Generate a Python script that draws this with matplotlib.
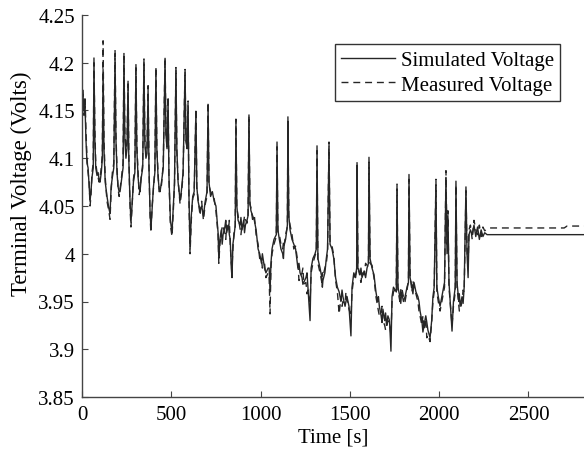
import matplotlib
matplotlib.use("Agg")
import matplotlib.pyplot as plt
from matplotlib.ticker import FuncFormatter

# time samples [s] (12 per row, rows line up with the voltage lists)
time_s = [
    0, 6, 11, 17, 22, 28, 34, 40, 45, 50, 56, 63,
    67, 72, 77, 84, 90, 96, 101, 108, 114, 118, 123, 130,
    140, 150, 157, 163, 170, 178, 185, 190, 196, 202, 208, 213,
    220, 230, 235, 240, 246, 252, 258, 262, 268, 274, 280, 288,
    296, 302, 307, 314, 320, 325, 332, 340, 347, 352, 358, 364,
    370, 375, 381, 386, 392, 400, 408, 414, 419, 426, 432, 437,
    445, 455, 465, 470, 476, 482, 487, 495, 504, 510, 518, 526,
    531, 538, 549, 556, 566, 577, 582, 588, 594, 599, 605, 612,
    620, 628, 638, 643, 650, 661, 670, 680, 690, 700, 706, 711,
    720, 730, 740, 750, 762, 766, 772, 780, 785, 790, 800, 805,
    810, 820, 825, 830, 836, 840, 845, 852, 858, 862, 867, 874,
    885, 890, 896, 905, 910, 915, 924, 930, 935, 940, 946, 955,
    965, 975, 986, 995, 1005, 1010, 1014, 1022, 1030, 1042, 1048, 1053,
    1058, 1064, 1075, 1088, 1092, 1097, 1105, 1114, 1124, 1128, 1132, 1140,
    1150, 1153, 1158, 1165, 1176, 1186, 1196, 1209, 1215, 1221, 1232, 1237,
    1242, 1254, 1260, 1265, 1277, 1283, 1293, 1305, 1312, 1316, 1321, 1333,
    1343, 1346, 1349, 1360, 1368, 1375, 1383, 1389, 1400, 1410, 1420, 1430,
    1440, 1450, 1456, 1461, 1473, 1478, 1484, 1495, 1506, 1512, 1522, 1532,
    1538, 1540, 1545, 1557, 1562, 1568, 1580, 1588, 1596, 1604, 1607, 1613,
    1624, 1635, 1646, 1655, 1660, 1665, 1675, 1680, 1685, 1695, 1700, 1705,
    1713, 1722, 1730, 1736, 1744, 1760, 1764, 1769, 1780, 1785, 1790, 1800,
    1809, 1820, 1828, 1831, 1837, 1848, 1853, 1859, 1870, 1881, 1887, 1893,
    1903, 1909, 1915, 1925, 1931, 1937, 1949, 1958, 1965, 1972, 1982, 1987,
    1995, 2005, 2015, 2030, 2038, 2044, 2049, 2055, 2072, 2080, 2090, 2094,
    2100, 2110, 2113, 2117, 2128, 2134, 2140, 2150, 2156, 2162, 2167, 2175,
    2185, 2195, 2205, 2215, 2225, 2235, 2245, 2255, 2268, 2285, 2700, 2716, 2811,
]

# simulated terminal voltage [V]
v_sim = [
    4.150, 4.165, 4.150, 4.155, 4.120, 4.095, 4.090, 4.070, 4.055, 4.065, 4.080, 4.090,
    4.205, 4.120, 4.090, 4.082, 4.085, 4.078, 4.075, 4.085, 4.100, 4.193, 4.110, 4.075,
    4.060, 4.048, 4.042, 4.070, 4.080, 4.090, 4.205, 4.120, 4.085, 4.070, 4.065, 4.065,
    4.075, 4.090, 4.205, 4.120, 4.100, 4.110, 4.178, 4.100, 4.060, 4.033, 4.050, 4.075,
    4.085, 4.195, 4.110, 4.080, 4.068, 4.065, 4.080, 4.090, 4.200, 4.115, 4.100, 4.105,
    4.172, 4.090, 4.045, 4.026, 4.045, 4.070, 4.085, 4.192, 4.110, 4.080, 4.068, 4.065,
    4.075, 4.090, 4.203, 4.125, 4.110, 4.160, 4.080, 4.035, 4.022, 4.045, 4.075, 4.192,
    4.110, 4.075, 4.056, 4.065, 4.085, 4.190, 4.120, 4.110, 4.155, 4.060, 4.005, 4.040,
    4.060, 4.065, 4.148, 4.070, 4.055, 4.045, 4.050, 4.040, 4.055, 4.065, 4.155, 4.075,
    4.060, 4.065, 4.055, 4.050, 4.022, 3.995, 4.015, 4.025, 4.010, 4.020, 4.028, 4.035,
    4.022, 4.030, 4.020, 4.015, 3.985, 3.975, 4.010, 4.020, 4.030, 4.138, 4.050, 4.035,
    4.030, 4.038, 4.025, 4.035, 4.022, 4.030, 4.035, 4.040, 4.143, 4.055, 4.045, 4.040,
    4.035, 4.025, 4.005, 4.000, 3.990, 4.000, 3.995, 3.985, 3.980, 3.985, 3.985, 3.960,
    3.990, 4.005, 4.015, 4.020, 4.117, 4.025, 4.015, 4.005, 4.000, 3.995, 4.010, 4.015,
    4.030, 4.138, 4.040, 4.025, 4.015, 4.010, 4.005, 3.985, 3.990, 3.980, 3.975, 3.968,
    3.970, 3.975, 3.980, 3.965, 3.930, 3.985, 3.995, 4.000, 4.005, 4.113, 3.995, 3.985,
    3.975, 3.965, 3.972, 3.980, 3.995, 4.005, 4.112, 4.010, 4.005, 3.995, 3.975, 3.965,
    3.960, 3.950, 3.962, 3.955, 3.945, 3.950, 3.955, 3.945, 3.914, 3.965, 3.980, 3.975,
    3.985, 4.092, 3.985, 3.978, 3.985, 3.975, 3.982, 3.975, 3.985, 3.990, 4.101, 3.995,
    3.985, 3.978, 3.960, 3.950, 3.955, 3.945, 3.935, 3.928, 3.942, 3.930, 3.938, 3.925,
    3.935, 3.930, 3.898, 3.955, 3.965, 3.960, 4.068, 3.965, 3.955, 3.948, 3.960, 3.950,
    3.955, 3.965, 3.970, 4.083, 3.975, 3.965, 3.958, 3.970, 3.960, 3.955, 3.950, 3.940,
    3.930, 3.918, 3.925, 3.935, 3.928, 3.920, 3.912, 3.930, 3.955, 3.965, 4.072, 3.965,
    3.955, 3.945, 3.955, 3.970, 4.080, 4.000, 4.040, 3.970, 3.919, 3.950, 3.965, 4.076,
    3.970, 3.950, 3.958, 3.945, 3.955, 3.948, 3.965, 4.070, 4.000, 3.975, 4.020, 4.025,
    4.020, 4.030, 4.018, 4.028, 4.015, 4.025, 4.018, 4.022, 4.020, 4.020, 4.020, 4.020, 4.020,
]

# measured terminal voltage [V]
v_meas = [
    4.160, 4.172, 4.145, 4.165, 4.130, 4.100, 4.085, 4.075, 4.050, 4.060, 4.085, 4.095,
    4.200, 4.130, 4.095, 4.085, 4.080, 4.075, 4.080, 4.090, 4.105, 4.223, 4.120, 4.080,
    4.055, 4.045, 4.036, 4.065, 4.085, 4.095, 4.214, 4.125, 4.090, 4.068, 4.060, 4.068,
    4.078, 4.095, 4.211, 4.125, 4.110, 4.115, 4.182, 4.105, 4.055, 4.028, 4.048, 4.078,
    4.090, 4.199, 4.115, 4.085, 4.062, 4.068, 4.082, 4.094, 4.204, 4.120, 4.105, 4.110,
    4.176, 4.092, 4.040, 4.022, 4.048, 4.068, 4.088, 4.196, 4.112, 4.084, 4.065, 4.066,
    4.072, 4.094, 4.206, 4.128, 4.112, 4.165, 4.078, 4.030, 4.018, 4.040, 4.072, 4.195,
    4.108, 4.078, 4.052, 4.062, 4.082, 4.193, 4.118, 4.112, 4.160, 4.055, 4.000, 4.035,
    4.058, 4.062, 4.152, 4.068, 4.058, 4.040, 4.055, 4.035, 4.052, 4.060, 4.159, 4.072,
    4.065, 4.062, 4.058, 4.045, 4.020, 3.990, 4.010, 4.020, 4.030, 4.028, 4.022, 4.015,
    4.030, 4.025, 4.035, 4.010, 3.990, 3.985, 4.005, 4.025, 4.028, 4.141, 4.048, 4.040,
    4.026, 4.020, 4.030, 4.032, 4.040, 4.036, 4.032, 4.042, 4.146, 4.052, 4.048, 4.036,
    4.040, 4.020, 4.010, 3.995, 3.995, 3.985, 3.988, 3.990, 3.975, 3.980, 3.975, 3.937,
    3.985, 4.000, 4.010, 4.018, 4.112, 4.022, 4.020, 4.010, 4.005, 4.012, 4.008, 4.020,
    4.028, 4.144, 4.038, 4.030, 4.020, 4.005, 4.008, 3.990, 3.972, 3.975, 3.980, 3.985,
    3.968, 3.970, 3.958, 3.962, 3.950, 3.980, 3.990, 3.998, 4.002, 4.108, 3.990, 3.980,
    3.970, 3.980, 3.976, 3.985, 3.990, 4.002, 4.117, 4.012, 4.008, 3.998, 3.972, 3.960,
    3.937, 3.955, 3.945, 3.950, 3.948, 3.960, 3.952, 3.942, 3.935, 3.960, 3.975, 3.978,
    3.982, 4.097, 3.988, 3.975, 3.970, 3.980, 3.978, 3.990, 3.988, 3.986, 4.096, 3.990,
    3.988, 3.975, 3.955, 3.945, 3.940, 3.935, 3.938, 3.945, 3.930, 3.925, 3.920, 3.922,
    3.930, 3.928, 3.915, 3.950, 3.960, 3.965, 4.073, 3.962, 3.950, 3.962, 3.965, 3.955,
    3.950, 3.962, 3.972, 4.078, 3.978, 3.960, 3.972, 3.965, 3.958, 3.950, 3.940, 3.935,
    3.925, 3.935, 3.920, 3.932, 3.912, 3.915, 3.908, 3.928, 3.950, 3.960, 4.078, 3.960,
    3.950, 3.940, 3.950, 3.965, 4.087, 4.010, 4.045, 3.965, 3.925, 3.945, 3.960, 4.072,
    3.965, 3.945, 3.940, 3.940, 3.950, 3.962, 3.960, 4.066, 4.005, 3.985, 4.025, 4.030,
    4.015, 4.035, 4.025, 4.020, 4.030, 4.018, 4.028, 4.024, 4.026, 4.027, 4.027, 4.029, 4.029,
]

y_ticks = [3.85, 3.9, 3.95, 4.0, 4.05, 4.1, 4.15, 4.2, 4.25]
x_ticks = [0, 500, 1000, 1500, 2000, 2500]

plt.rcParams["font.family"] = ["Liberation Serif", "DejaVu Serif"]
plt.rcParams["font.size"] = 15

fig = plt.figure(figsize=(5.84, 4.52), dpi=100)
ax = fig.add_axes([82 / 584, 54 / 452, 502 / 584, 382 / 452])

ax.plot(time_s, v_sim, color="#262626", lw=1.0, label="Simulated Voltage")
ax.plot(time_s, v_meas, color="#262626", lw=1.0, linestyle=(0, (5, 3.5)),
        label="Measured Voltage")

ax.set_xlim(0, 2811)
ax.set_ylim(3.85, 4.25)
ax.set_xticks(x_ticks)
ax.set_yticks(y_ticks)
ax.yaxis.set_major_formatter(FuncFormatter(lambda v, p: f"{v:g}"))

ax.spines["top"].set_visible(False)
ax.spines["right"].set_visible(False)
for s in ("left", "bottom"):
    ax.spines[s].set_color("#444444")
    ax.spines[s].set_linewidth(1.0)
ax.tick_params(direction="in", length=4, width=0.8, color="#444444", labelsize=15)
ax.tick_params(axis="y", pad=5)
ax.tick_params(axis="x", pad=6)

ax.set_xlabel("Time [s]", labelpad=2)
ax.set_ylabel("Terminal Voltage (Volts)", fontsize=16.5)
ax.yaxis.set_label_coords(-0.100, 0.562)

leg = ax.legend(loc="upper right", bbox_to_anchor=(0.952, 0.924), borderaxespad=0,
                fancybox=False, framealpha=1, edgecolor="#333333",
                handlelength=2.6, handletextpad=0.25, labelspacing=0.25,
                borderpad=0.3, fontsize=15)
leg.get_frame().set_linewidth(1.0)

fig.savefig("out.png", dpi=100)
